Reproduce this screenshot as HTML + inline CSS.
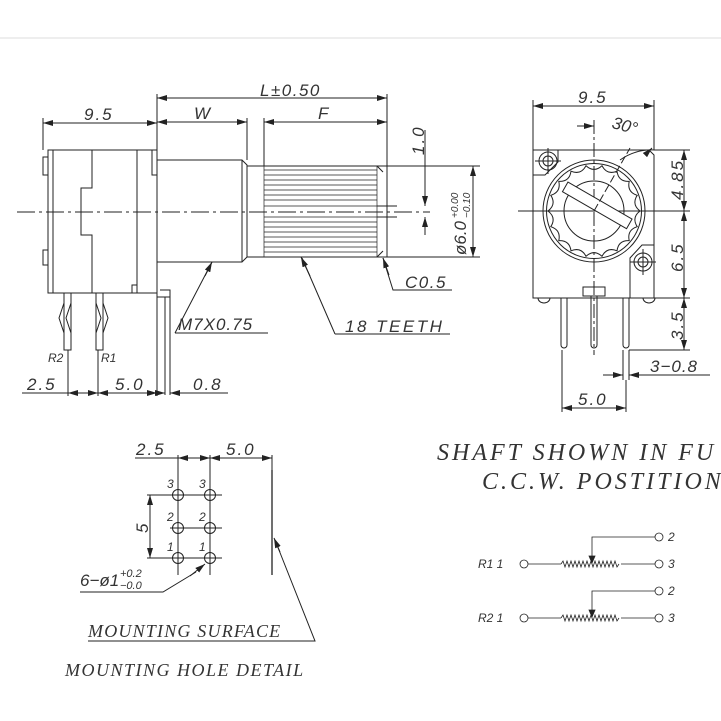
<!DOCTYPE html>
<html><head><meta charset="utf-8"><style>
html,body{margin:0;padding:0;background:#fff}
svg{display:block}
text{font-family:"Liberation Sans",sans-serif;font-style:italic;fill:#333;stroke:none}
.s{font-family:"Liberation Serif",serif}
</style></head><body>
<svg width="721" height="721" viewBox="0 0 721 721" xmlns="http://www.w3.org/2000/svg" stroke="#222" fill="none" stroke-width="1">
<defs>
<marker id="a" viewBox="0 0 10 6" refX="10" refY="3" markerWidth="10" markerHeight="6" orient="auto-start-reverse" markerUnits="userSpaceOnUse"><path d="M0,0L10,3L0,6z" fill="#222" stroke="none"/></marker>
</defs>
<line x1="0" y1="38" x2="721" y2="38" stroke="#ddd"/>

<!-- FRONT VIEW -->
<line x1="17" y1="212" x2="430" y2="212" stroke-dasharray="18,4,3,4"/>
<rect x="48" y="150" width="109" height="143"/>
<path d="M48,157h-5v18h5M48,250h-5v15h5"/>
<line x1="53" y1="150" x2="53" y2="293"/>
<path d="M92,150V188H81V235H92V293"/>
<line x1="137" y1="150" x2="137" y2="285"/>
<path d="M132,293v-8h5v8"/>
<path d="M152,150v25h5"/>
<path d="M157,160H242L247,165V257L242,262H157"/>
<line x1="242" y1="160" x2="242" y2="262"/>
<path d="M247,166H387M247,257H387M387,166V257"/>
<path d="M377,166L383,172M377,257L383,251"/>
<g stroke-width="0.7">
<line x1="264" y1="166" x2="264" y2="257"/><line x1="377" y1="166" x2="377" y2="257"/>
<line x1="264" y1="170" x2="377" y2="170"/><line x1="264" y1="175" x2="377" y2="175"/><line x1="264" y1="180" x2="377" y2="180"/><line x1="264" y1="185" x2="377" y2="185"/><line x1="264" y1="190" x2="377" y2="190"/><line x1="264" y1="195" x2="377" y2="195"/><line x1="264" y1="200" x2="377" y2="200"/><line x1="264" y1="206" x2="377" y2="206"/><line x1="264" y1="217" x2="377" y2="217"/><line x1="264" y1="222" x2="377" y2="222"/><line x1="264" y1="227" x2="377" y2="227"/><line x1="264" y1="232" x2="377" y2="232"/><line x1="264" y1="237" x2="377" y2="237"/><line x1="264" y1="242" x2="377" y2="242"/><line x1="264" y1="247" x2="377" y2="247"/><line x1="264" y1="252" x2="377" y2="252"/>
</g>
<path d="M377,206H397M377,217H397"/>
<path d="M64,293V350H71V293M64,303L59,318L64,333M71,303L66,318L71,333"/>
<path d="M96,293V350H103V293M103,303L108,318L103,333M96,303L101,318L96,333"/>
<path d="M157,293V297H170V290H160"/>
<line x1="165" y1="297" x2="165" y2="395"/><line x1="170" y1="297" x2="170" y2="395"/>
<text x="48" y="362" font-size="12">R2</text><text x="101" y="362" font-size="12">R1</text>
<line x1="43" y1="118" x2="43" y2="150"/><line x1="157" y1="94" x2="157" y2="160"/>
<line x1="43" y1="123" x2="157" y2="123" marker-start="url(#a)" marker-end="url(#a)"/>
<text x="84" y="120" font-size="17" letter-spacing="2">9.5</text>
<line x1="157" y1="98" x2="387" y2="98" marker-start="url(#a)" marker-end="url(#a)"/>
<line x1="387" y1="94" x2="387" y2="166"/>
<text x="260" y="96" font-size="17" letter-spacing="1.5">L±0.50</text>
<line x1="157" y1="122" x2="247" y2="122" marker-start="url(#a)" marker-end="url(#a)"/>
<line x1="247" y1="118" x2="247" y2="160"/>
<text x="194" y="119" font-size="17">W</text>
<line x1="264" y1="122" x2="387" y2="122" marker-start="url(#a)" marker-end="url(#a)"/>
<line x1="264" y1="118" x2="264" y2="166"/>
<text x="318" y="119" font-size="17">F</text>
<line x1="425" y1="130" x2="425" y2="206" marker-end="url(#a)"/>
<line x1="425" y1="217" x2="425" y2="235" marker-start="url(#a)"/>
<text transform="translate(424,155) rotate(-90)" font-size="17" letter-spacing="2">1.0</text>
<path d="M387,166H480M387,257H480"/>
<line x1="473" y1="166" x2="473" y2="257" marker-start="url(#a)" marker-end="url(#a)"/>
<text transform="translate(466,255) rotate(-90)" font-size="17">ø6.0</text>
<text transform="translate(458,218) rotate(-90)" font-size="10">+0.00</text>
<text transform="translate(470,218) rotate(-90)" font-size="10">−0.10</text>
<path d="M383,258L393,290H452" />
<line x1="389" y1="275" x2="383" y2="258" marker-end="url(#a)"/>
<text x="405" y="288" font-size="17" letter-spacing="1.5">C0.5</text>
<path d="M335,334L302,258M335,334H450"/>
<line x1="310" y1="276" x2="301" y2="257" marker-end="url(#a)"/>
<text x="345" y="332" font-size="17" letter-spacing="2.5">18 TEETH</text>
<path d="M175,333L212,262M175,333H268"/>
<line x1="205" y1="276" x2="212" y2="262" marker-end="url(#a)"/>
<text x="178" y="330" font-size="17" letter-spacing="1">M7X0.75</text>
<line x1="68" y1="350" x2="68" y2="396"/><line x1="98" y1="350" x2="98" y2="396"/><line x1="157" y1="297" x2="157" y2="396"/>
<line x1="22" y1="393" x2="68" y2="393"/>
<line x1="68" y1="393" x2="98" y2="393" marker-start="url(#a)" marker-end="url(#a)"/>
<line x1="98" y1="393" x2="157" y2="393" marker-start="url(#a)" marker-end="url(#a)"/>
<line x1="170" y1="393" x2="228" y2="393" marker-start="url(#a)"/>
<line x1="140" y1="393" x2="165" y2="393" marker-end="url(#a)"/>
<text x="27" y="390" font-size="17" letter-spacing="2">2.5</text>
<text x="115" y="390" font-size="17" letter-spacing="2">5.0</text>
<text x="193" y="390" font-size="17" letter-spacing="2">0.8</text>

<!-- SIDE VIEW -->
<line x1="518" y1="211" x2="690" y2="211"/>
<line x1="594" y1="120" x2="594" y2="355" stroke-dasharray="14,3,3,3"/>
<path d="M533,150H649L654,155V298H533Z"/>
<path d="M533,175H545L558,162V150"/>
<path d="M654,245H642L630,258V298"/>
<path d="M538,298a6,5 0 0 0 12,0M643,298a6,5 0 0 0 12,0"/>
<circle cx="548" cy="161" r="9"/><circle cx="548" cy="161" r="5"/><path d="M535,161h26M548,148v26"/>
<circle cx="643" cy="262" r="9"/><circle cx="643" cy="262" r="5"/><path d="M630,262h26M643,249v26"/>
<circle cx="594" cy="211" r="51"/><circle cx="594" cy="211" r="47.5"/>
<circle cx="594" cy="211" r="30"/>
<path id="gear" d=""/>
<g transform="rotate(30 594 211)"><rect x="557" y="199" width="74" height="11" fill="#fff"/></g>
<line x1="594" y1="211" x2="630" y2="148" stroke-dasharray="8,3"/>
<path d="M620,160A55,55 0 0 1 655,150" />
<line x1="645" y1="155" x2="652" y2="148" marker-end="url(#a)"/>
<rect x="583" y="287" width="22" height="9"/>
<path d="M561,298V345a3,3 0 0 0 6,0V298M591,296V345a3,3 0 0 0 6,0V296M623,298V345a3,3 0 0 0 6,0V298"/>
<path d="M533,100V150M654,100V150"/>
<line x1="533" y1="106" x2="654" y2="106" marker-start="url(#a)" marker-end="url(#a)"/>
<text x="578" y="103" font-size="17" letter-spacing="2">9.5</text>
<line x1="577" y1="126" x2="594" y2="126" marker-end="url(#a)"/>
<text x="612" y="130" font-size="17" transform="rotate(15 620 125)">30°</text>
<path d="M654,150H690M654,211H690M654,298H690M629,350H690"/>
<line x1="684" y1="150" x2="684" y2="211" marker-start="url(#a)" marker-end="url(#a)"/>
<line x1="684" y1="211" x2="684" y2="298" marker-start="url(#a)" marker-end="url(#a)"/>
<line x1="684" y1="298" x2="684" y2="350" marker-start="url(#a)" marker-end="url(#a)"/>
<text transform="translate(683,200) rotate(-90)" font-size="17" letter-spacing="2">4.85</text>
<text transform="translate(683,272) rotate(-90)" font-size="17" letter-spacing="2">6.5</text>
<text transform="translate(683,340) rotate(-90)" font-size="17" letter-spacing="2">3.5</text>
<path d="M623,350V380M629,350V380"/>
<line x1="603" y1="375" x2="623" y2="375" marker-end="url(#a)"/>
<line x1="710" y1="375" x2="629" y2="375" marker-end="url(#a)"/>
<text x="650" y="372" font-size="17" letter-spacing="1">3−0.8</text>
<path d="M562,350V412M626,380V412"/>
<line x1="562" y1="408" x2="626" y2="408" marker-start="url(#a)" marker-end="url(#a)"/>
<text x="578" y="405" font-size="17" letter-spacing="2">5.0</text>

<!-- MOUNTING HOLE DETAIL -->
<line x1="135" y1="458" x2="178" y2="458"/>
<line x1="178" y1="458" x2="210" y2="458" marker-start="url(#a)" marker-end="url(#a)"/>
<line x1="210" y1="458" x2="272" y2="458" marker-start="url(#a)" marker-end="url(#a)"/>
<text x="136" y="455" font-size="17" letter-spacing="2">2.5</text>
<text x="226" y="455" font-size="17" letter-spacing="2">5.0</text>
<path d="M178,455V575M210,455V575M272,455V575"/>
<line x1="272" y1="470" x2="272" y2="575" stroke-width="1.3"/>
<path d="M147,495H222M170,528H222M147,558H222"/>
<circle cx="178" cy="495" r="5.5"/><circle cx="210" cy="495" r="5.5"/>
<circle cx="178" cy="528" r="5.5"/><circle cx="210" cy="528" r="5.5"/>
<circle cx="178" cy="558" r="5.5"/><circle cx="210" cy="558" r="5.5"/>
<text x="167" y="488" font-size="12">3</text><text x="199" y="488" font-size="12">3</text>
<text x="167" y="521" font-size="12">2</text><text x="199" y="521" font-size="12">2</text>
<text x="167" y="551" font-size="12">1</text><text x="199" y="551" font-size="12">1</text>
<line x1="150" y1="495" x2="150" y2="558" marker-start="url(#a)" marker-end="url(#a)"/>
<text transform="translate(148,533) rotate(-90)" font-size="17">5</text>
<path d="M80,592H163L196,572"/>
<line x1="190" y1="576" x2="205" y2="564" marker-end="url(#a)"/>
<text x="80" y="586" font-size="17">6−ø1</text>
<text x="120" y="577" font-size="11">+0.2</text><text x="120" y="589" font-size="11">−0.0</text>
<path d="M88,641H315L275,540"/>
<line x1="280" y1="552" x2="274" y2="538" marker-end="url(#a)"/>
<text x="88" y="637" font-size="18" letter-spacing="1.2" class="s">MOUNTING SURFACE</text>
<text x="65" y="676" font-size="18" letter-spacing="1.5" class="s">MOUNTING HOLE DETAIL</text>

<!-- NOTE + CIRCUIT -->
<text x="437" y="460" font-size="24" letter-spacing="3" class="s">SHAFT SHOWN IN FU</text>
<text x="482" y="489" font-size="24" letter-spacing="3" class="s">C.C.W. POSTITION</text>
<g stroke-width="0.8">
<circle cx="524" cy="564" r="4"/><path d="M528,564H561"/>
<path d="M561,564l2,-3l2,6l2,-6l2,6l2,-6l2,6l2,-6l2,6l2,-6l2,6l2,-6l2,6l2,-6l2,6l2,-6l2,6l2,-6l2,6l2,-6l2,6l2,-6l2,6l2,-6l2,6l2,-6l2,6l2,-6l2,6l2,-3"/>
<path d="M621,564H655"/><circle cx="659" cy="564" r="4"/>
<path d="M655,537H592V558"/><path d="M589,556L592,563L595,556Z" fill="#222"/><circle cx="659" cy="537" r="4"/>
<circle cx="524" cy="618" r="4"/><path d="M528,618H561"/>
<path d="M561,618l2,-3l2,6l2,-6l2,6l2,-6l2,6l2,-6l2,6l2,-6l2,6l2,-6l2,6l2,-6l2,6l2,-6l2,6l2,-6l2,6l2,-6l2,6l2,-6l2,6l2,-6l2,6l2,-6l2,6l2,-6l2,6l2,-3"/>
<path d="M621,618H655"/><circle cx="659" cy="618" r="4"/>
<path d="M655,591H592V612"/><path d="M589,610L592,617L595,610Z" fill="#222"/><circle cx="659" cy="591" r="4"/>
</g>
<text x="478" y="568" font-size="12">R1  1</text>
<text x="668" y="541" font-size="12">2</text><text x="668" y="568" font-size="12">3</text>
<text x="478" y="622" font-size="12">R2  1</text>
<text x="668" y="595" font-size="12">2</text><text x="668" y="622" font-size="12">3</text>
</svg>
<script>
(function(){var cx=594,cy=211,n=18,d="";for(var i=0;i<n;i++){var a0=i*2*Math.PI/n,am=a0+Math.PI/n,a1=a0+2*Math.PI/n;
var p=function(r,a){return (cx+r*Math.cos(a)).toFixed(1)+","+(cy+r*Math.sin(a)).toFixed(1)};
if(i==0)d+="M"+p(46,a0);d+=" Q"+p(38,am)+" "+p(46,a1);}
document.getElementById("gear").setAttribute("d",d+"Z");})();
</script>
</body></html>
